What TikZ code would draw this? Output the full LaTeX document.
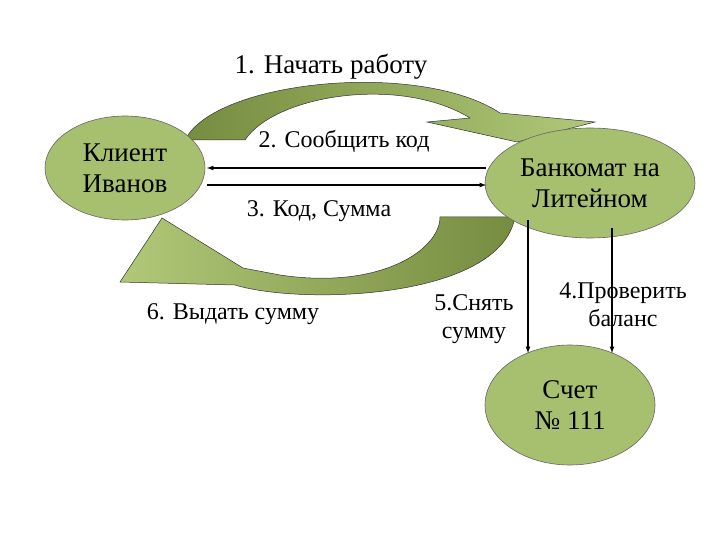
\documentclass[tikz,border=0pt]{standalone}
\usepackage{fontspec}
\setmainfont{Liberation Serif}
\usetikzlibrary{shapes.geometric}
\definecolor{ellfill}{RGB}{166,192,112}
\definecolor{darkol}{RGB}{118,140,64}
\definecolor{lightol}{RGB}{176,200,120}
\begin{document}
\begin{tikzpicture}[x=1pt,y=-1pt,
  ell/.style={draw=black!60,fill=ellfill,ellipse,line width=0.6pt},
  big/.style={font=\fontsize{27}{31}\selectfont,align=center},
  mid/.style={font=\fontsize{24}{28}\selectfont,align=center},
  shaft/.style={draw=black!80,line width=0.5pt},
  arr/.style={-latex,line width=1.2pt}]
\useasboundingbox (0,0) rectangle (720,540);
\fill[white] (0,0) rectangle (720,540);
% curved arrows
\path[shaft,left color=darkol,right color=lightol]
 (185,140) .. controls (215,80) and (420,60) .. (500,113) -- (595,122) -- (517,142) -- (427,122) -- (470,118)
 .. controls (400,75) and (275,95) .. (245,140) -- cycle;
\path[shaft,right color=darkol,left color=lightol]
 (515,217) .. controls (500,300) and (300,305) .. (235,285) -- (120,282) -- (162,218) -- (243,268) -- (280,275)
 .. controls (380,290) and (440,250) .. (440,217) -- cycle;
\node[ell,minimum width=160,minimum height=104] (k) at (125,168) {};
\node[big] at (k) {Клиент\\Иванов};
\node[ell,minimum width=210,minimum height=110] (b) at (590,183) {};
\node[big] at (b) {Банкомат на\\Литейном};
\node[ell,minimum width=170,minimum height=120] (s) at (570,405) {};
\node[big] at (s) {Счет\\№ 111};
\coordinate (k2) at (207,168); \coordinate (b2) at (486,168);
\coordinate (k3) at (207,185); \coordinate (b3) at (486,185);
\draw[arr] (b2) -- (k2);
\draw[arr] (k3) -- (b3);
\coordinate (v1) at (528,220); \coordinate (v1e) at (528,353);
\coordinate (v2) at (612,228); \coordinate (v2e) at (612,353);
\draw[arr] (v1) -- (v1e);
\draw[arr] (v2) -- (v2e);
\node[big] (t1) at (331,67) {1. Начать работу};
\node[mid] (t2) at (344,141) {2. Сообщить код};
\node[mid] (t3) at (319,211) {3. Код, Сумма};
\node[mid] (t6) at (233,314) {6. Выдать сумму};
\node[mid] (t5) at (474,319) {5.Снять\\сумму};
\node[mid] (t4) at (623,305) {4.Проверить\\баланс};
\end{tikzpicture}
\end{document}
